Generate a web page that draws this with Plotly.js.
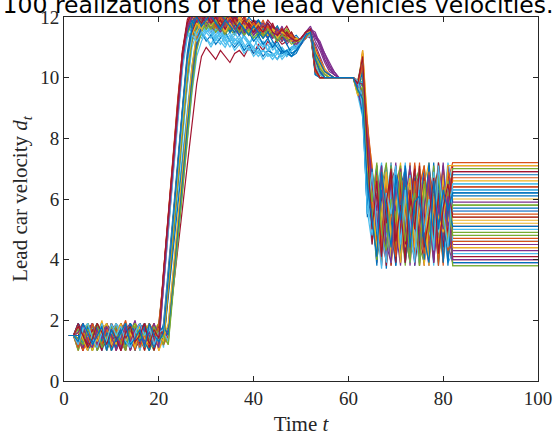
<!DOCTYPE html>
<html>
<head>
<meta charset="utf-8">
<script src="https://cdn.plot.ly/plotly-3.0.1.min.js"></script>
<style>html,body{margin:0;padding:0;background:#fff;}#chart{width:556px;height:437px;}</style>
</head>
<body>
<div id="chart"></div>
<script>
// Time steps (last point: constant velocity held to the end of the horizon)
const time = [1,2,3,4,5,6,7,8,9,10,11,12,13,14,15,16,17,18,19,20,21,22,23,24,25,26,27,28,29,30,31,32,33,34,35,36,37,38,39,40,41,42,43,44,45,46,47,48,49,50,51,52,53,54,55,56,57,58,59,60,61,62,63,64,65,66,67,68,69,70,71,72,73,74,75,76,77,78,79,80,81,82,100];
const xTicks = [0,20,40,60,80,100];
const yTicks = [0,2,4,6,8,10,12];

const run01 = [1.5,1.5,1.8,1.2,1.6,1.9,1.1,1.4,1.7,1.3, 1.9,1.2,1.5,1.8,1.0,1.6,1.3,1.9,1.4,1.7, 1.2,3.2,5.1,6.9,8.7,10.4,11.5,11.9,12.1,11.8, 11.9,12.2,11.7,11.9,12.0,11.6,11.8,11.5,11.9,11.7, 11.6,11.8,11.4,11.7,11.5,11.6,11.3,11.4,11.2,11.2, 11.4,11.5,10.4,10.1,10.0,10.0,10.0,10.0,10.0,10.0, 10.0,9.6,9.1,7.8,6.2,4.1,6.9,5.0,3.9,6.5, 4.6,7.1,5.3,4.0,6.0,7.0,4.4,5.8,3.8,6.7, 4.9,6.3,6.3];
const run02 = [1.5,1.5,1.2,1.7,1.4,1.0,1.8,1.5,1.1,1.9, 1.3,1.6,2.0,1.4,1.7,1.2,1.8,1.1,1.6,1.3, 3.5,5.4,7.3,9.1,10.8,11.7,12.0,11.8,12.2,11.9, 11.7,12.0,11.8,12.1,11.6,11.9,11.7,12.0,11.5,11.8, 11.4,11.7,11.6,11.3,11.5,11.4,11.6,11.2,11.3,11.1, 11.5,11.6,10.2,10.0,10.0,10.0,10.0,10.0,10.0,10.0, 10.0,9.8,10.6,7.2,5.1,6.8,4.2,7.0,5.6,4.0, 6.4,5.0,7.2,4.3,6.6,3.9,5.7,6.9,4.5,5.2, 7.0,4.7,4.7];
const run03 = [1.5,1.5,1.6,1.1,1.9,1.3,1.5,2.0,1.2,1.6, 1.8,1.0,1.4,1.7,1.3,1.9,1.5,1.2,1.8,1.4, 1.6,1.3,3.1,4.8,6.5,8.2,9.8,11.1,11.7,11.9, 12.1,11.8,11.6,11.9,11.8,12.0,11.7,11.6,11.8,11.5, 11.7,11.4,11.6,11.5,11.3,11.5,11.2,11.3,11.1,11.2, 11.3,11.4,10.8,10.4,10.2,10.1,10.0,10.0,10.0,10.0, 10.0,9.5,8.9,7.5,5.9,7.1,4.8,6.2,3.8,5.5, 7.1,4.1,6.3,5.6,4.5,6.8,5.0,4.0,7.2,5.9, 4.2,5.4,5.4];
const run04 = [1.5,1.5,1.9,1.4,1.1,1.7,1.3,1.6,1.9,1.0, 1.5,1.8,1.2,1.6,1.9,1.4,1.1,1.7,1.3,1.8, 1.4,3.0,4.7,6.4,8.1,9.8,11.2,11.6,11.9,11.7, 11.5,11.8,11.9,11.6,11.8,11.4,11.7,11.9,11.6,11.5, 11.8,11.5,11.3,11.6,11.4,11.2,11.5,11.3,11.0,11.2, 11.4,11.3,11.1,10.7,10.3,10.1,10.0,10.0,10.0,10.0, 10.0,9.7,9.3,8.1,6.6,4.4,6.0,7.1,4.9,3.9, 5.8,6.9,4.2,6.1,7.0,4.8,3.8,6.4,5.3,6.9, 4.0,6.9,6.9];
const run05 = [1.5,1.5,1.3,1.8,1.5,1.2,1.9,1.1,1.6,1.4, 1.7,1.3,1.9,1.0,1.5,1.7,1.4,1.8,1.2,1.5, 3.3,5.2,7.0,8.9,10.6,11.5,11.8,12.1,11.9,12.0, 11.8,11.6,12.0,11.7,11.5,11.8,11.6,11.4,11.7,11.6, 11.3,11.6,11.5,11.7,11.2,11.4,11.3,11.5,11.2,11.3, 11.4,11.5,10.3,10.0,10.0,10.0,10.0,10.0,10.0,10.0, 10.0,9.9,10.4,7.4,6.3,4.0,5.5,6.8,4.6,7.1, 5.2,3.8,6.0,6.9,4.7,5.6,7.1,4.1,6.2,4.5, 5.9,3.8,3.8];
const run06 = [1.5,1.5,1.4,1.9,1.2,1.6,1.0,1.7,1.3,1.8, 1.1,1.5,1.8,1.3,1.6,1.0,1.9,1.4,1.7,1.2, 1.5,3.0,4.5,6.0,7.5,9.0,10.4,11.2,11.5,11.3, 11.1,11.4,11.2,11.0,11.3,11.1,11.2,10.9,11.1,11.0, 10.8,10.9,11.1,10.7,10.9,11.0,10.8,11.0,11.1,11.2, 11.3,11.4,10.6,10.2,10.1,10.0,10.0,10.0,10.0,10.0, 10.0,9.4,8.7,5.6,4.5,6.3,7.2,5.1,4.0,6.6, 4.9,7.0,5.5,3.9,6.8,5.3,4.3,6.0,7.2,4.6, 6.5,5.0,5.0];
const run07 = [1.5,1.5,1.7,1.0,1.5,1.8,1.4,1.2,1.9,1.6, 1.2,1.9,1.6,1.1,1.4,1.8,1.3,1.6,1.9,1.1, 1.4,1.6,2.9,4.3,5.7,7.1,8.5,9.8,10.7,11.0, 10.8,10.6,10.9,10.7,10.5,10.8,10.9,10.7,11.0,10.8, 11.1,10.9,11.2,11.0,11.3,11.1,11.2,11.3,11.1,11.2, 11.3,11.5,10.9,10.5,10.2,10.1,10.0,10.0,10.0,10.0, 10.0,9.6,10.8,7.9,5.3,6.9,3.8,5.9,7.0,4.4, 6.2,4.8,3.9,7.1,5.4,6.3,4.1,5.1,6.9,5.7, 4.3,7.1,7.1];
const run08 = [1.5,1.5,1.1,1.6,1.8,1.3,1.7,1.0,1.5,1.9, 1.4,1.7,1.1,1.9,1.2,1.5,1.8,1.0,1.6,1.4, 1.7,3.4,5.3,7.1,8.9,10.6,11.6,12.2,12.3,12.0, 12.1,11.9,12.2,12.0,11.8,12.1,11.9,11.7,12.0,11.8, 11.9,11.6,11.8,11.5,11.7,11.4,11.5,11.3,11.4,11.2, 11.5,11.6,10.1,10.0,10.0,10.0,10.0,10.0,10.0,10.0, 10.0,9.9,9.0,5.5,6.7,5.0,7.1,4.3,6.0,3.8, 6.9,5.6,4.4,6.3,3.9,7.0,5.2,6.6,4.0,5.9, 6.8,6.1,6.1];
const run09 = [1.5,1.5,1.9,1.3,1.0,1.6,1.9,1.4,1.7,1.2, 1.6,1.0,1.5,1.8,1.4,1.1,1.6,1.9,1.3,1.7, 3.6,5.6,7.5,9.3,10.9,11.8,12.1,11.9,12.2,12.0, 12.1,11.8,11.9,12.2,11.9,11.7,12.0,11.8,11.6,11.9, 11.7,11.8,11.5,11.6,11.4,11.6,11.3,11.4,11.2,11.2, 11.3,11.6,10.5,10.2,10.1,10.0,10.0,10.0,10.0,10.0, 10.0,9.7,10.9,8.4,6.1,4.6,6.5,3.9,7.2,5.4, 4.1,6.6,5.9,4.6,7.2,4.2,6.4,5.5,4.8,6.3, 5.6,4.4,4.4];
const run10 = [1.5,1.5,1.4,1.7,1.2,1.9,1.5,1.1,1.8,1.6, 1.9,1.3,1.7,1.2,1.8,1.6,1.0,1.5,1.9,1.2, 1.5,3.3,5.2,7.0,8.8,10.5,11.6,11.9,11.7,12.1, 11.9,11.7,11.8,11.5,11.9,11.7,11.8,11.6,11.9,11.7, 11.5,11.7,11.4,11.6,11.5,11.3,11.6,11.4,11.3,11.2, 11.4,11.5,10.6,10.3,10.1,10.0,10.0,10.0,10.0,10.0, 10.0,9.8,9.2,7.6,4.9,6.4,5.7,7.0,4.5,6.1, 3.9,5.4,6.9,5.0,4.3,6.5,7.2,4.7,5.6,3.9, 6.2,6.6,6.6];
const run11 = [1.5,1.5,1.2,1.5,1.9,1.4,1.1,1.8,1.5,1.3, 1.8,1.4,1.0,1.6,1.9,1.3,1.7,1.2,1.5,1.9, 1.3,1.7,3.3,5.0,6.8,8.5,10.1,11.3,11.8,11.6, 11.9,11.7,11.5,11.8,11.6,11.9,11.5,11.7,11.4,11.6, 11.8,11.5,11.7,11.3,11.6,11.4,11.2,11.3,11.0,11.2, 11.5,11.3,11.4,11.1,10.6,10.3,10.1,10.0,10.0,10.0, 10.0,9.5,9.9,8.5,5.8,7.0,4.6,6.0,5.1,7.1, 4.4,6.2,3.8,5.7,6.7,4.0,5.9,7.0,5.3,4.1, 5.7,4.5,4.5];
const run12 = [1.5,1.5,1.6,1.2,1.8,1.0,1.4,1.7,1.2,1.9, 1.5,1.8,1.3,1.7,1.1,1.4,1.8,1.3,1.0,1.6, 3.2,5.1,6.9,8.7,10.4,11.4,11.8,11.6,11.9,11.7, 11.8,11.5,11.7,11.9,11.6,11.4,11.7,11.5,11.8,11.6, 11.4,11.5,11.7,11.4,11.3,11.5,11.4,11.2,11.3,11.2, 11.4,11.4,10.2,10.0,10.0,10.0,10.0,10.0,10.0,10.0, 10.0,9.6,9.4,7.0,6.5,4.3,6.1,4.9,6.8,4.2, 7.0,4.6,5.8,6.4,3.8,5.5,6.3,4.4,6.1,7.0, 4.8,5.8,5.8];
const run13 = [1.5,1.5,1.8,1.4,1.6,1.1,1.9,1.3,1.6,1.0, 1.3,1.9,1.5,1.2,1.6,1.9,1.2,1.7,1.4,1.8, 1.1,2.9,4.6,6.3,8.0,9.7,11.0,11.5,11.3,11.6, 11.4,11.6,11.3,11.5,11.2,11.4,11.6,11.3,11.1,11.4, 11.2,11.0,11.3,10.9,11.1,10.8,10.9,10.7,11.0,11.2, 11.4,11.6,10.4,10.1,10.0,10.0,10.0,10.0,10.0,10.0, 10.0,9.9,10.3,6.8,5.5,4.7,6.6,5.3,7.2,4.8, 5.5,7.1,4.6,4.0,6.0,6.9,4.5,5.4,6.4,5.0, 3.9,4.2,4.2];
const run14 = [1.5,1.5,1.3,1.9,1.1,1.5,1.7,1.2,1.4,1.8, 1.0,1.6,1.4,1.9,1.3,1.1,1.5,1.7,1.4,1.3, 3.5,5.5,7.4,9.2,10.9,11.9,12.3,12.1,12.0,12.2, 11.9,12.1,11.8,12.0,12.2,11.9,11.8,12.0,11.7,11.9, 11.8,11.6,11.9,11.7,11.6,11.5,11.7,11.4,11.3,11.2, 11.5,11.6,10.3,10.1,10.0,10.0,10.0,10.0,10.0,10.0, 10.0,9.8,9.5,8.0,6.0,3.9,5.9,6.9,4.0,6.4, 5.3,4.3,7.0,6.0,5.1,3.8,6.8,5.0,4.2,7.1, 5.0,6.4,6.4];
const run15 = [1.5,1.5,1.7,1.3,1.9,1.6,1.2,1.5,1.0,1.4, 1.7,1.2,1.8,1.5,1.0,1.9,1.6,1.4,1.8,1.5, 1.3,2.8,4.3,5.8,7.3,8.8,10.2,11.1,11.5,11.2, 11.4,11.1,11.3,11.5,11.2,11.0,11.2,10.9,11.1,10.8, 11.0,10.7,10.9,10.8,10.6,10.9,10.7,11.0,11.1,11.2, 11.4,11.5,10.7,10.3,10.1,10.0,10.0,10.0,10.0,10.0, 10.0,9.5,9.6,5.4,7.0,4.5,6.3,3.7,5.8,6.9, 4.7,5.9,6.5,3.8,5.2,7.1,4.9,6.1,4.3,5.5, 6.0,5.7,5.7];
const run16 = [1.5,1.5,1.0,1.6,1.4,1.8,1.3,1.9,1.5,1.1, 1.6,1.4,1.9,1.1,1.7,1.5,1.2,1.9,1.6,1.0, 1.6,3.5,5.4,7.2,9.0,10.7,11.7,12.0,11.8,12.2, 12.0,11.9,12.1,11.8,12.0,11.6,11.9,12.1,11.7,11.8, 11.6,11.9,11.5,11.7,11.4,11.6,11.5,11.3,11.2,11.1, 11.4,11.5,10.2,10.0,10.0,10.0,10.0,10.0,10.0,10.0, 10.0,9.7,10.5,7.3,4.6,6.7,5.5,4.1,6.9,5.2, 6.0,3.9,5.6,7.2,4.8,6.1,4.6,7.0,5.7,4.4, 6.6,7.2,7.2];
const run17 = [1.5,1.5,1.5,1.1,1.7,1.4,1.8,1.6,1.2,1.9, 1.4,1.1,1.6,1.8,1.2,1.7,1.4,1.1,1.7,1.9, 1.5,1.2,3.2,4.9,6.6,8.3,9.9,11.2,11.9,12.0, 11.8,12.1,11.9,11.6,11.9,11.7,12.0,11.8,11.6,11.7, 11.6,11.4,11.6,11.5,11.7,11.3,11.4,11.2,11.1,11.2, 11.3,11.5,10.9,10.6,10.3,10.1,10.0,10.0,10.0,10.0, 10.0,9.4,9.7,8.3,7.1,5.0,4.0,6.6,5.4,6.1, 7.2,4.3,6.3,5.1,4.0,5.8,6.7,4.2,6.5,4.8, 5.3,5.2,5.2];
const run18 = [1.5,1.5,1.9,1.5,1.3,1.7,1.0,1.4,1.8,1.5, 1.2,1.7,1.3,1.6,2.0,1.2,1.5,1.8,1.1,1.4, 3.1,5.0,6.9,8.7,10.5,11.6,12.0,11.7,11.9,11.8, 11.6,11.9,11.7,11.4,11.8,11.6,11.9,11.5,11.7,11.4, 11.7,11.5,11.3,11.6,11.4,11.7,11.3,11.4,11.2,11.3, 11.5,11.6,11.2,10.9,10.5,10.2,10.1,10.0,10.0,10.0, 10.0,9.8,9.3,7.7,6.4,4.2,6.6,5.7,3.9,6.8, 5.1,6.4,4.5,6.7,5.8,4.1,7.1,5.3,4.6,6.4, 4.5,3.9,3.9];
const run19 = [1.5,1.5,1.2,1.8,1.4,1.0,1.6,1.9,1.3,1.7, 1.5,1.9,1.2,1.4,1.8,1.6,1.3,1.0,1.5,1.8, 1.3,3.1,4.9,6.7,8.5,10.2,11.4,11.8,12.0,11.7, 11.9,11.6,11.8,12.0,11.7,11.9,11.6,11.8,11.5,11.7, 11.6,11.8,11.4,11.5,11.6,11.3,11.5,11.2,11.3,11.2, 11.4,11.4,10.5,10.2,10.0,10.0,10.0,10.0,10.0,10.0, 10.0,9.9,10.7,7.1,5.7,6.9,4.4,5.0,6.7,4.0, 6.3,5.2,7.1,4.5,6.2,5.4,3.9,6.8,5.0,7.1, 4.1,4.9,4.9];
const run20 = [1.5,1.5,1.6,1.3,1.9,1.2,1.5,1.1,1.7,1.4, 1.9,1.5,1.1,1.7,1.4,1.2,1.9,1.6,1.3,1.7, 3.4,5.3,7.1,8.9,10.6,11.5,11.3,11.6,11.8,11.5, 11.7,11.4,11.6,11.3,11.5,11.2,11.4,11.1,10.9,11.0, 10.8,10.9,10.7,10.8,10.6,10.8,10.9,11.0,11.1,11.2, 11.3,11.5,10.3,10.0,10.0,10.0,10.0,10.0,10.0,10.0, 10.0,9.6,9.0,6.9,5.4,7.1,4.7,6.4,4.1,5.6, 6.8,4.0,5.1,6.5,7.0,4.6,5.5,3.8,6.6,5.8, 7.2,6.5,6.5];
const run21 = [1.5,1.5,1.4,1.0,1.7,1.9,1.3,1.6,1.1,1.8, 1.3,1.6,1.8,1.0,1.5,1.9,1.4,1.2,1.8,1.6, 1.2,3.0,4.8,6.6,8.4,10.1,11.3,11.7,11.9,12.1, 11.8,12.0,11.7,11.9,11.6,11.8,11.5,11.7,11.9,11.6, 11.8,11.5,11.6,11.4,11.5,11.2,11.4,11.3,11.2,11.1, 11.3,11.4,10.4,10.1,10.0,10.0,10.0,10.0,10.0,10.0, 10.0,9.7,9.8,7.5,6.8,4.1,5.6,7.0,3.8,5.9, 4.8,6.7,4.1,5.5,6.9,5.0,4.4,6.3,7.0,4.2, 6.9,4.0,4.0];
const run22 = [1.5,1.5,1.8,1.2,1.5,1.7,1.1,1.9,1.4,1.2, 1.8,1.3,1.6,1.9,1.1,1.4,1.7,1.5,1.2,1.9, 1.4,1.8,3.4,5.1,6.8,8.6,10.3,11.4,11.9,12.2, 12.0,11.8,12.1,11.9,11.7,12.0,11.8,11.5,11.8,11.6, 11.9,11.7,11.4,11.6,11.3,11.5,11.3,11.2,11.0,11.2, 11.4,11.6,10.6,10.2,10.0,10.0,10.0,10.0,10.0,10.0, 10.0,9.8,9.4,6.2,5.6,3.8,6.5,5.2,7.1,4.7, 6.1,4.9,6.8,4.2,5.9,6.2,4.8,7.2,4.1,5.3, 6.4,6.8,6.8];
const run23 = [1.5,1.5,1.3,1.7,1.1,1.4,1.9,1.2,1.6,1.8, 1.0,1.5,1.7,1.3,1.9,1.6,1.1,1.4,1.9,1.2, 3.6,5.5,7.4,9.2,10.8,11.7,12.2,12.0,11.8,12.1, 11.9,12.1,11.7,11.9,12.0,11.7,11.5,11.8,11.6,11.9, 11.5,11.8,11.6,11.3,11.5,11.6,11.4,11.3,11.2,11.2, 11.5,11.5,10.3,10.0,10.0,10.0,10.0,10.0,10.0,10.0, 10.0,9.9,10.2,7.8,5.2,6.6,4.9,3.9,6.3,7.0, 5.0,4.4,6.0,6.8,4.1,5.2,6.6,4.9,5.9,3.8, 6.7,5.5,5.5];
const run24 = [1.5,1.5,1.7,1.9,1.2,1.5,1.3,1.7,1.0,1.6, 1.4,1.8,1.2,1.5,1.7,1.0,1.6,1.9,1.4,1.1, 1.8,3.6,5.4,7.2,9.0,10.6,11.6,11.9,12.1,11.8, 11.6,11.9,11.8,11.5,11.7,11.9,11.6,11.8,11.4,11.7, 11.5,11.7,11.6,11.4,11.5,11.3,11.6,11.4,11.2,11.2, 11.4,11.6,10.8,10.4,10.1,10.0,10.0,10.0,10.0,10.0, 10.0,9.5,10.9,8.6,6.3,4.8,7.0,5.9,4.3,6.7, 3.9,6.1,5.2,4.7,6.4,7.1,4.0,5.7,6.9,5.1, 4.6,6.0,6.0];
const run25 = [1.5,1.5,1.1,1.5,1.8,1.3,1.6,1.4,1.9,1.2, 1.7,1.0,1.4,1.8,1.6,1.3,1.9,1.2,1.7,1.5, 1.7,1.4,3.0,4.7,6.4,8.1,9.7,11.0,11.6,11.9, 11.7,11.5,11.8,11.6,11.9,11.6,11.4,11.7,11.5,11.8, 11.4,11.6,11.3,11.5,11.2,11.4,11.1,11.3,11.0,11.1, 11.3,11.6,11.5,11.1,10.8,10.4,10.2,10.0,10.0,10.0, 10.0,9.6,9.1,7.9,6.9,5.3,4.0,6.3,5.5,7.2, 4.5,5.7,6.6,3.8,6.1,4.8,5.4,6.9,4.4,6.0, 5.2,4.3,4.3];
const run26 = [1.5,1.5,1.5,1.2,1.9,1.6,1.0,1.3,1.8,1.4, 1.6,1.2,1.9,1.4,1.1,1.8,1.5,1.3,1.6,1.9, 3.3,5.2,7.1,8.9,10.6,11.7,11.9,12.1,11.8,11.6, 11.9,11.7,11.5,11.8,11.6,11.9,11.7,11.4,11.6,11.5, 11.7,11.3,11.5,11.6,11.4,11.2,11.5,11.3,11.1,11.2, 11.4,11.5,10.2,10.0,10.0,10.0,10.0,10.0,10.0,10.0, 10.0,9.8,9.9,7.0,5.8,4.5,6.8,5.4,4.2,6.5, 7.1,4.8,5.3,6.6,4.4,3.9,6.2,5.6,7.1,4.7, 5.5,7.0,7.0];
const run27 = [1.5,1.5,1.9,1.4,1.2,1.8,1.5,1.0,1.6,1.3, 1.9,1.7,1.2,1.5,1.8,1.1,1.4,1.7,1.2,1.6, 1.4,3.2,5.0,6.8,8.6,10.3,11.3,11.6,11.4,11.7, 11.5,11.2,11.5,11.3,11.0,11.3,11.1,11.4,11.2,11.0, 11.3,11.1,10.9,11.2,10.8,11.0,10.7,10.9,11.1,11.2, 11.4,11.5,10.5,10.2,10.0,10.0,10.0,10.0,10.0,10.0, 10.0,9.7,9.2,7.2,5.5,6.2,4.2,7.1,5.8,4.5, 6.5,5.4,3.9,6.9,5.0,6.4,4.6,7.0,4.0,5.6, 6.1,4.6,4.6];
const run28 = [1.5,1.5,1.2,1.6,1.4,1.9,1.2,1.7,1.5,1.1, 1.5,1.9,1.4,1.2,1.7,1.5,1.0,1.8,1.4,1.7, 3.5,5.4,7.3,9.1,10.8,11.8,12.1,11.9,12.2,11.9, 12.1,11.8,12.0,11.7,11.9,12.1,11.8,11.6,11.9,11.7, 11.8,11.6,11.5,11.7,11.4,11.6,11.3,11.4,11.2,11.3, 11.5,11.6,10.4,10.1,10.0,10.0,10.0,10.0,10.0,10.0, 10.0,9.9,10.6,8.2,6.7,4.3,5.7,6.6,4.0,7.0, 5.9,4.2,6.9,5.2,4.5,6.6,5.8,3.9,6.2,5.0, 4.4,5.1,5.1];
const run29 = [1.5,1.5,1.4,1.8,1.1,1.6,1.9,1.3,1.7,1.5, 1.2,1.6,1.9,1.1,1.4,1.7,1.9,1.2,1.5,1.3, 1.9,3.7,5.5,7.3,9.1,10.8,11.8,12.1,11.9,12.2, 11.9,12.1,12.0,11.8,12.1,11.9,11.6,11.9,11.8,11.6, 11.9,11.6,11.8,11.5,11.7,11.4,11.5,11.3,11.3,11.2, 11.4,11.5,10.1,10.0,10.0,10.0,10.0,10.0,10.0,10.0, 10.0,9.6,8.8,6.4,5.0,7.1,4.6,6.0,5.2,3.8, 6.4,7.0,4.7,5.8,6.5,4.3,7.2,5.4,4.7,6.2, 5.8,3.9,3.9];
const run30 = [1.5,1.5,1.6,1.0,1.4,1.7,1.3,1.9,1.1,1.5, 1.8,1.4,1.0,1.7,1.3,1.9,1.5,1.1,1.8,1.4, 1.2,1.5,3.2,5.0,6.7,8.4,10.0,11.2,11.8,12.0, 11.8,11.6,11.9,11.7,12.0,11.8,11.5,11.8,11.6,11.9, 11.6,11.4,11.7,11.5,11.3,11.5,11.2,11.4,11.1,11.2, 11.4,11.5,11.0,10.6,10.2,10.1,10.0,10.0,10.0,10.0, 10.0,9.7,10.4,7.6,5.2,6.5,3.9,5.5,6.8,4.9, 7.0,4.5,5.6,6.3,3.8,5.9,4.9,6.7,5.3,7.0, 4.1,6.7,6.7];
const run31 = [1.5,1.5,1.3,1.7,1.9,1.2,1.5,1.8,1.4,1.0, 1.6,1.3,1.8,1.5,1.2,1.6,1.8,1.5,1.1,1.8, 3.2,5.1,6.9,8.8,10.5,11.6,11.9,12.2,12.0,11.8, 12.0,11.7,11.9,12.1,11.8,11.6,11.9,11.7,11.5,11.8, 11.6,11.8,11.4,11.6,11.5,11.3,11.4,11.2,11.3,11.2, 11.5,11.4,10.3,10.0,10.0,10.0,10.0,10.0,10.0,10.0, 10.0,9.8,10.0,7.4,6.5,4.9,6.9,3.9,5.6,6.6, 4.3,6.8,5.9,4.2,6.9,5.5,4.0,6.2,5.1,6.8, 4.7,5.3,5.3];
const run32 = [1.5,1.5,1.8,1.3,1.6,1.1,1.7,1.5,1.9,1.2, 1.4,1.8,1.5,1.0,1.6,1.4,1.8,1.3,1.9,1.5, 1.6,3.3,5.1,6.9,8.7,10.4,11.5,11.8,12.0,11.7, 11.9,12.1,11.8,11.6,11.9,11.7,11.5,11.8,11.6,11.9, 11.7,11.5,11.8,11.6,11.3,11.5,11.4,11.3,11.2,11.1, 11.4,11.6,11.4,11.0,10.6,10.3,10.1,10.0,10.0,10.0, 10.0,9.5,9.0,8.4,6.8,5.6,7.1,4.1,6.4,5.0, 3.8,6.0,7.1,4.9,5.6,6.8,4.2,5.0,6.3,4.5, 7.1,5.9,5.9];
const run33 = [1.5,1.5,1.0,1.5,1.3,1.8,1.6,1.2,1.9,1.4, 1.7,1.1,1.6,1.9,1.3,1.5,1.2,1.8,1.6,1.3, 3.4,5.3,7.2,9.0,10.7,11.6,11.9,11.7,12.0,11.8, 11.7,11.9,11.6,11.8,11.5,11.7,11.9,11.6,11.4,11.7, 11.5,11.7,11.6,11.3,11.5,11.4,11.6,11.3,11.2,11.2, 11.3,11.5,10.4,10.1,10.0,10.0,10.0,10.0,10.0,10.0, 10.0,9.9,9.7,6.6,5.9,4.0,6.4,7.2,4.6,5.3, 6.6,4.7,4.0,6.5,7.0,4.4,5.9,6.4,3.9,5.4, 6.3,4.8,4.8];
const run34 = [1.5,1.5,1.7,1.2,1.5,1.9,1.4,1.0,1.6,1.8, 1.3,1.5,1.9,1.2,1.8,1.0,1.6,1.4,1.7,1.1, 1.6,1.3,3.0,4.6,6.3,7.9,9.5,10.7,11.2,11.5, 11.3,11.6,11.4,11.1,11.3,11.5,11.2,11.4,11.1,11.3, 11.0,11.2,10.9,11.1,10.8,10.7,10.9,10.8,10.9,11.1, 11.3,11.4,10.7,10.3,10.1,10.0,10.0,10.0,10.0,10.0, 10.0,9.6,9.9,5.6,6.2,4.4,5.9,6.9,3.9,6.3, 5.5,7.2,4.3,6.0,5.3,4.1,6.7,5.8,6.9,4.3, 5.9,6.3,6.3];
const run35 = [1.5,1.5,1.5,1.9,1.2,1.4,1.7,1.1,1.3,1.9, 1.6,1.2,1.7,1.4,1.9,1.2,1.5,1.7,1.0,1.6, 1.3,3.1,4.9,6.7,8.5,10.2,11.3,11.8,12.1,11.9, 12.1,11.8,11.6,11.9,11.7,12.0,11.8,11.5,11.7,11.9, 11.6,11.7,11.5,11.8,11.4,11.6,11.3,11.5,11.2,11.2, 11.4,11.5,10.2,10.0,10.0,10.0,10.0,10.0,10.0,10.0, 10.0,9.7,9.3,7.9,4.5,6.2,5.4,3.8,6.6,7.0, 4.9,5.7,6.4,3.9,5.1,6.7,5.6,4.6,7.2,5.8, 4.9,4.1,4.1];
const run36 = [1.5,1.5,1.9,1.6,1.0,1.3,1.8,1.5,1.2,1.7, 1.1,1.7,1.3,1.8,1.5,1.9,1.3,1.0,1.6,1.8, 3.3,5.2,7.0,8.8,10.5,11.5,11.9,11.6,11.8,12.0, 11.7,11.9,11.6,11.8,11.5,11.7,11.4,11.7,11.5,11.2, 11.4,11.1,11.3,11.0,11.2,10.9,10.8,10.7,10.9,11.2, 11.4,11.6,10.6,10.2,10.0,10.0,10.0,10.0,10.0,10.0, 10.0,9.8,10.5,7.3,6.0,7.0,4.3,5.8,4.8,6.9, 6.1,3.9,5.3,6.7,4.6,5.9,7.0,4.4,5.2,6.5, 3.8,6.2,6.2];
const run37 = [1.5,1.5,1.2,1.9,1.5,1.7,1.1,1.4,1.8,1.3, 1.9,1.4,1.2,1.6,1.0,1.7,1.4,1.9,1.2,1.5, 1.7,3.5,5.3,7.1,8.9,10.6,11.6,11.9,12.2,12.0, 11.8,12.1,11.9,11.7,12.0,11.8,11.6,11.9,11.7,11.5, 11.8,11.6,11.4,11.6,11.5,11.3,11.5,11.4,11.2,11.2, 11.5,11.6,10.3,10.1,10.0,10.0,10.0,10.0,10.0,10.0, 10.0,9.9,10.1,8.5,7.0,5.1,4.4,6.8,5.7,4.3, 6.2,6.9,5.5,4.1,6.4,7.1,4.6,5.3,6.0,3.9, 6.9,6.4,6.4];
const run38 = [1.5,1.5,1.6,1.4,1.8,1.0,1.5,1.9,1.3,1.6, 1.2,1.8,1.5,1.3,1.9,1.4,1.1,1.5,1.8,1.0, 1.4,1.9,3.6,5.3,7.0,8.8,10.4,11.5,11.9,11.7, 12.0,11.8,11.6,11.9,11.7,11.5,11.8,11.6,11.9,11.6, 11.5,11.7,11.4,11.6,11.5,11.4,11.2,11.3,11.1,11.2, 11.3,11.4,10.9,10.5,10.2,10.0,10.0,10.0,10.0,10.0, 10.0,9.4,10.8,7.8,6.1,4.2,5.3,6.9,4.1,6.0, 5.7,4.4,6.5,5.0,7.1,3.8,6.1,5.6,4.5,6.7, 5.4,4.4,4.4];
const run39 = [1.5,1.5,1.4,1.1,1.6,1.9,1.2,1.7,1.5,1.8, 1.5,1.1,1.7,1.9,1.4,1.2,1.7,1.3,1.9,1.2, 3.5,5.4,7.2,9.0,10.7,11.6,12.0,11.8,12.1,11.9, 11.6,11.9,12.1,11.8,11.6,11.9,11.7,11.4,11.7,11.5, 11.8,11.5,11.6,11.3,11.5,11.2,11.4,11.3,11.2,11.1, 11.5,11.7,11.3,11.1,10.7,10.4,10.1,10.0,10.0,10.0, 10.0,9.6,9.5,7.1,5.3,6.9,4.7,4.1,6.5,5.6, 7.0,5.0,4.2,6.1,5.8,4.7,6.6,3.9,5.5,7.2, 5.1,5.6,5.6];
const run40 = [1.5,1.5,1.7,1.3,1.1,1.5,1.9,1.6,1.2,1.4, 1.8,1.6,1.1,1.5,1.8,1.3,1.9,1.6,1.4,1.7, 1.2,3.0,4.8,6.6,8.3,10.0,11.2,11.7,11.9,11.6, 11.8,11.5,11.7,11.9,11.6,11.8,11.5,11.7,11.4,11.6, 11.7,11.4,11.6,11.5,11.3,11.4,11.2,11.3,11.2,11.2, 11.4,11.5,10.4,10.1,10.0,10.0,10.0,10.0,10.0,10.0, 10.0,9.7,9.6,6.9,5.6,4.0,6.7,5.2,7.1,4.4, 5.4,6.4,3.9,5.7,6.7,4.5,5.0,7.1,4.0,6.1, 6.6,3.8,3.8];
const run41 = [1.5,1.5,1.3,1.8,1.6,1.2,1.4,1.9,1.1,1.6, 1.9,1.4,1.6,1.1,1.5,1.8,1.2,1.7,1.5,1.3, 3.1,4.9,6.8,8.6,10.3,11.3,11.6,11.4,11.7,11.5, 11.6,11.3,11.5,11.2,11.4,11.1,11.3,11.0,11.2,10.9, 10.7,10.9,10.8,10.6,10.8,10.7,10.9,11.0,11.0,11.2, 11.3,11.4,10.5,10.2,10.0,10.0,10.0,10.0,10.0,10.0, 10.0,9.8,9.4,6.0,4.8,6.6,5.0,3.9,6.2,7.1, 4.2,5.8,6.8,4.8,3.9,6.3,5.4,6.9,4.9,5.9, 6.4,5.6,5.6];
const run42 = [1.5,1.5,1.9,1.5,1.2,1.7,1.4,1.0,1.8,1.5, 1.3,1.8,1.4,1.7,1.2,1.6,1.9,1.1,1.5,1.8, 1.5,3.3,5.2,7.0,8.8,10.5,11.5,11.9,12.0,11.8, 12.0,11.7,11.9,11.6,11.8,12.0,11.7,11.5,11.8,11.6, 11.5,11.7,11.5,11.4,11.6,11.3,11.5,11.2,11.2,11.2, 11.4,11.6,10.6,10.2,10.0,10.0,10.0,10.0,10.0,10.0, 10.0,9.8,9.8,7.7,6.4,4.6,6.1,5.2,7.0,3.9, 6.6,4.5,5.8,7.0,4.3,5.4,6.5,4.8,6.2,4.4, 5.8,6.9,6.9];
const run43 = [1.5,1.5,1.5,1.2,1.8,1.4,1.9,1.3,1.6,1.0, 1.4,1.7,1.2,1.9,1.6,1.3,1.8,1.5,1.1,1.6, 1.8,1.5,3.1,4.9,6.6,8.3,9.9,11.1,11.7,11.9, 11.7,11.9,11.6,11.8,11.5,11.7,11.9,11.6,11.5,11.7, 11.4,11.6,11.3,11.5,11.2,11.4,11.1,10.8,10.9,11.1, 11.4,11.6,10.8,10.5,10.2,10.1,10.0,10.0,10.0,10.0, 10.0,9.6,10.2,5.7,7.0,4.8,6.3,4.4,5.8,6.7, 4.0,6.9,5.0,5.6,6.3,4.0,7.1,5.1,6.6,3.9, 6.0,5.1,5.1];
const run44 = [1.5,1.5,1.1,1.6,1.3,1.9,1.5,1.2,1.7,1.4, 1.7,1.2,1.9,1.4,1.6,1.1,1.5,1.8,1.3,1.9, 3.4,5.3,7.2,9.0,10.7,11.7,12.1,11.9,12.0,12.2, 11.9,11.7,12.0,11.8,11.6,11.9,11.7,11.9,11.6,11.8, 11.6,11.5,11.7,11.4,11.5,11.6,11.3,11.4,11.2,11.2, 11.3,11.6,10.2,10.0,10.0,10.0,10.0,10.0,10.0,10.0, 10.0,9.9,10.4,8.1,5.7,6.8,4.5,6.3,5.0,4.1, 6.8,5.7,4.6,6.6,5.2,4.2,6.9,5.9,3.8,6.4, 4.3,4.6,4.6];
const run45 = [1.5,1.5,1.8,1.4,1.0,1.6,1.3,1.7,1.9,1.2, 1.5,1.9,1.3,1.6,1.1,1.8,1.4,1.2,1.7,1.5, 1.3,3.2,5.0,6.8,8.6,10.3,11.4,11.8,11.6,11.9, 11.7,11.9,11.8,11.5,11.8,11.6,11.9,11.7,11.5,11.6, 11.8,11.5,11.4,11.6,11.3,11.5,11.4,11.2,11.3,11.2, 11.5,11.5,10.5,10.1,10.0,10.0,10.0,10.0,10.0,10.0, 10.0,9.7,9.2,7.0,6.3,4.3,5.5,6.9,4.7,6.2, 3.9,6.0,6.7,4.4,5.6,6.5,3.8,6.1,5.4,4.9, 7.1,7.1,7.1];
const run46 = [1.5,1.5,1.6,1.9,1.3,1.1,1.7,1.4,1.8,1.5, 1.0,1.4,1.8,1.3,1.7,1.9,1.2,1.6,1.4,1.1, 3.3,5.2,7.0,8.9,10.6,11.7,12.0,12.2,11.9,11.7, 12.0,11.8,11.5,11.8,11.9,11.6,11.8,11.5,11.7,11.4, 11.6,11.8,11.5,11.3,11.6,11.4,11.2,11.3,11.1,11.2, 11.5,11.6,11.4,11.2,10.8,10.5,10.2,10.0,10.0,10.0, 10.0,9.7,9.6,8.0,6.6,5.0,6.8,4.5,3.9,6.4, 5.2,7.0,4.9,6.0,4.2,5.7,6.8,4.0,5.8,5.0, 6.1,4.0,4.0];
const run47 = [1.5,1.5,1.4,1.2,1.7,1.5,1.9,1.1,1.4,1.8, 1.6,1.3,1.0,1.7,1.9,1.4,1.6,1.3,1.8,1.4, 1.5,1.2,2.9,4.6,6.3,8.0,9.6,10.9,11.5,11.8, 11.6,11.9,11.7,11.4,11.7,11.5,11.8,11.4,11.6,11.3, 11.5,11.3,11.6,11.4,11.2,11.4,11.3,11.1,11.2,11.2, 11.4,11.5,10.7,10.3,10.1,10.0,10.0,10.0,10.0,10.0, 10.0,9.5,9.7,7.4,5.9,7.2,4.9,4.3,6.0,5.3, 6.9,4.6,5.6,6.2,3.8,6.6,5.3,4.5,6.8,5.2, 4.6,5.8,5.8];
const run48 = [1.5,1.5,1.2,1.7,1.9,1.4,1.1,1.6,1.3,1.9, 1.5,1.8,1.3,1.1,1.6,1.9,1.5,1.8,1.2,1.6, 1.7,3.4,5.2,7.0,8.8,10.5,11.4,11.2,11.5,11.3, 11.0,11.3,11.1,11.4,11.2,10.9,11.1,10.8,11.0,10.7, 10.9,10.6,10.8,10.7,10.9,10.6,10.8,10.9,11.0,11.2, 11.4,11.5,10.4,10.1,10.0,10.0,10.0,10.0,10.0,10.0, 10.0,9.9,9.0,5.5,6.9,5.1,3.7,6.2,5.5,7.0, 4.5,6.3,5.3,3.9,6.8,4.9,6.0,4.3,7.1,5.6, 4.4,6.5,6.5];
const run49 = [1.5,1.5,1.8,1.5,1.1,1.4,1.9,1.6,1.2,1.7, 1.4,1.0,1.6,1.8,1.3,1.5,1.9,1.2,1.7,1.4, 3.6,5.5,7.3,9.1,10.8,11.8,12.2,12.0,11.8,12.1, 11.8,12.0,11.7,11.9,12.1,11.8,11.6,11.9,11.7,11.5, 11.7,11.5,11.8,11.5,11.4,11.6,11.4,11.3,11.2,11.3, 11.5,11.6,10.3,10.0,10.0,10.0,10.0,10.0,10.0,10.0, 10.0,9.8,10.7,7.6,5.0,6.6,4.1,5.9,6.9,4.6, 5.8,3.9,6.3,5.0,7.1,4.4,5.4,6.7,4.2,5.7, 6.5,5.4,5.4];
const run50 = [1.5,1.5,1.3,1.9,1.6,1.2,1.5,1.8,1.0,1.7, 1.3,1.6,1.9,1.2,1.4,1.7,1.1,1.9,1.5,1.3, 1.6,3.4,5.3,7.1,8.9,10.6,11.6,12.0,11.7,11.9, 12.1,11.8,11.6,11.9,11.7,11.5,11.8,11.6,11.4,11.7, 11.5,11.3,11.5,11.2,11.0,10.8,10.9,10.7,10.8,11.1, 11.4,11.5,10.6,10.2,10.0,10.0,10.0,10.0,10.0,10.0, 10.0,9.6,9.3,6.5,5.3,4.1,6.9,5.6,4.4,6.8, 5.3,7.1,4.4,5.9,6.1,4.7,3.9,6.6,5.0,6.3, 5.6,6.2,6.2];

const runs = [run01,run02,run03,run04,run05,run06,run07,run08,run09,run10,
              run11,run12,run13,run14,run15,run16,run17,run18,run19,run20,
              run21,run22,run23,run24,run25,run26,run27,run28,run29,run30,
              run31,run32,run33,run34,run35,run36,run37,run38,run39,run40,
              run41,run42,run43,run44,run45,run46,run47,run48,run49,run50];

const matlabColors = ['#0072BD','#D95319','#EDB120','#7E2F8E','#77AC30','#4DBEEE','#A2142F'];

const traces = runs.map(function(v, i){
  return {
    type: 'scatter', mode: 'lines',
    x: time.slice(0, v.length), y: v,
    line: {width: 1.2, color: matlabColors[i % matlabColors.length]},
    hoverinfo: 'skip'
  };
});

const axisColor = '#262626';
const serif = 'Liberation Serif, Times New Roman, serif';

const layout = {
  width: 556, height: 437,
  margin: {l: 64, r: 18, t: 17, b: 56, pad: 0},
  paper_bgcolor: '#ffffff', plot_bgcolor: '#ffffff',
  showlegend: false,
  title: {
    text: '100 realizations of the lead vehicles velocities.',
    font: {family: 'DejaVu Sans, sans-serif', size: 23.5, color: '#000000'},
    x: 0.5, xref: 'container', xanchor: 'center',
    y: 0.99, yref: 'container', yanchor: 'middle'
  },
  xaxis: {
    range: [0, 100], tickvals: xTicks, ticktext: xTicks.map(String),
    ticks: 'inside', ticklen: 5, tickwidth: 1, tickcolor: axisColor,
    showline: true, linecolor: axisColor, linewidth: 1, mirror: 'ticks',
    showgrid: false, zeroline: false,
    tickfont: {family: serif, size: 19, color: axisColor},
    title: {text: 'Time <i>t</i>', font: {family: serif, size: 21, color: axisColor}, standoff: 8}
  },
  yaxis: {
    range: [0, 12], tickvals: yTicks, ticktext: yTicks.map(String),
    ticks: 'inside', ticklen: 5, tickwidth: 1, tickcolor: axisColor,
    showline: true, linecolor: axisColor, linewidth: 1, mirror: 'ticks',
    showgrid: false, zeroline: false,
    tickfont: {family: serif, size: 19, color: axisColor},
    title: {text: 'Lead car velocity <i>d</i><sub><i>t</i></sub>', font: {family: serif, size: 21, color: axisColor}, standoff: 6}
  }
};

Plotly.newPlot('chart', traces, layout, {displayModeBar: false, staticPlot: true});
</script>
</body>
</html>
